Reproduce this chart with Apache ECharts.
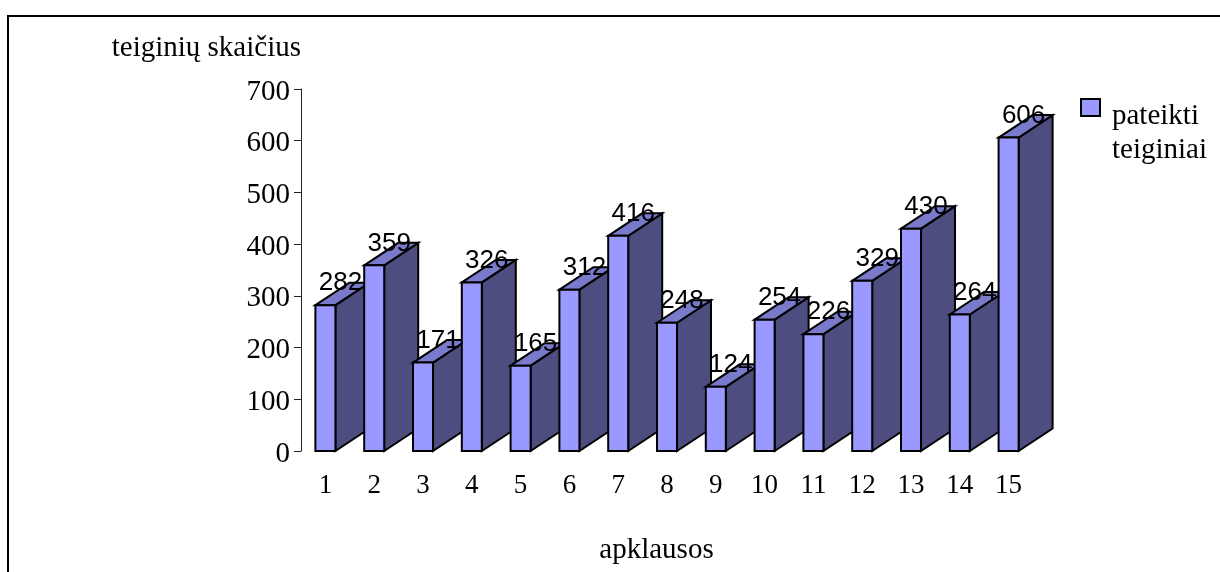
<!DOCTYPE html>
<html><head><meta charset="utf-8">
<style>html,body{margin:0;padding:0;background:#fff}#c{width:1220px;height:572px}</style>
<script src="https://cdn.jsdelivr.net/npm/echarts@6/dist/echarts.min.js"></script>
</head><body><div id="c"></div>
<script>
const categories = ['1','2','3','4','5','6','7','8','9','10','11','12','13','14','15'];
const values = [282,359,171,326,165,312,416,248,124,254,226,329,430,264,606];
const yTicks = {min:0,max:700,interval:100};
const seriesName = 'pateikti\nteiginiai';
const SERIF = '"Liberation Serif","Times New Roman",serif';
const SANS = '"Liberation Sans",Arial,sans-serif';
const FRONT='#9999FF', SIDE='#4D4D80', TOP='#7A7ACC';
const DX=34, DY=22.5, BAR=0.41;
const chart = echarts.init(document.getElementById('c'),null,{renderer:'canvas'});
function renderItem(params, api){
  const i=api.value(0), v=api.value(1);
  const base=api.coord([i,0]), top=api.coord([i,v]);
  const w=api.size([1,0])[0]*BAR;
  const l=base[0]-w/2, r=base[0]+w/2, y0=base[1], y1=top[1];
  const st={stroke:'#000',lineWidth:2,lineJoin:'miter'};
  return {type:'group',children:[
    {type:'polygon',shape:{points:[[r,y0],[r+DX,y0-DY],[r+DX,y1-DY],[r,y1]]},style:Object.assign({fill:SIDE},st)},
    {type:'polygon',shape:{points:[[l,y1],[l+DX,y1-DY],[r+DX,y1-DY],[r,y1]]},style:Object.assign({fill:TOP},st)},
    {type:'rect',shape:{x:l,y:y1,width:w,height:y0-y1},style:Object.assign({fill:FRONT},st)},
    {type:'text',style:{text:String(v),x:base[0]+15,y:y1-22,align:'center',verticalAlign:'middle',
      font:'26px '+SANS,fill:'#000'}}
  ]};
}
chart.setOption({
  animation:false,
  backgroundColor:'#fff',
  grid:{left:301,top:89,width:732,height:362,containLabel:false},
  xAxis:{type:'category',data:categories,
    axisLine:{show:false},axisTick:{show:false},
    axisLabel:{margin:21,color:'#000',fontFamily:SERIF,fontSize:27,interval:0},
    name:'apklausos',nameLocation:'middle',nameGap:85,
    nameTextStyle:{color:'#000',fontFamily:SERIF,fontSize:29,padding:[0,21,0,0]}},
  yAxis:{type:'value',min:yTicks.min,max:yTicks.max,interval:yTicks.interval,
    splitLine:{show:false},
    axisLine:{show:true,lineStyle:{color:'#222',width:1}},
    axisTick:{show:true,length:7,lineStyle:{color:'#222',width:1}},
    axisLabel:{margin:11,color:'#000',fontFamily:SERIF,fontSize:29,verticalAlign:'top',lineHeight:6,
      showMinLabel:true,showMaxLabel:true},
    name:'teiginių skaičius',nameLocation:'end',nameGap:41,
    nameTextStyle:{color:'#000',fontFamily:SERIF,fontSize:29,align:'right',verticalAlign:'middle'}},
  legend:{show:true,left:1075,top:89,orient:'vertical',itemWidth:19,itemHeight:68,itemGap:0,
    icon:'path://M0 0H19V17H0Z M0 68H0Z',
    itemStyle:{color:FRONT,borderColor:'#000',borderWidth:2},
    textStyle:{color:'#000',fontFamily:SERIF,fontSize:29,lineHeight:34,padding:[0,0,10,7]},
    data:[seriesName]},
  series:[{type:'custom',name:seriesName,renderItem,clip:false,
    itemStyle:{color:FRONT},
    encode:{x:0,y:1},
    data:values.map((v,i)=>[i,v])}],
  graphic:[{type:'polyline',silent:true,shape:{points:[[8,572],[8,16],[1220,16]]},
    style:{stroke:'#000',lineWidth:2,fill:null}}]
});
</script></body></html>
